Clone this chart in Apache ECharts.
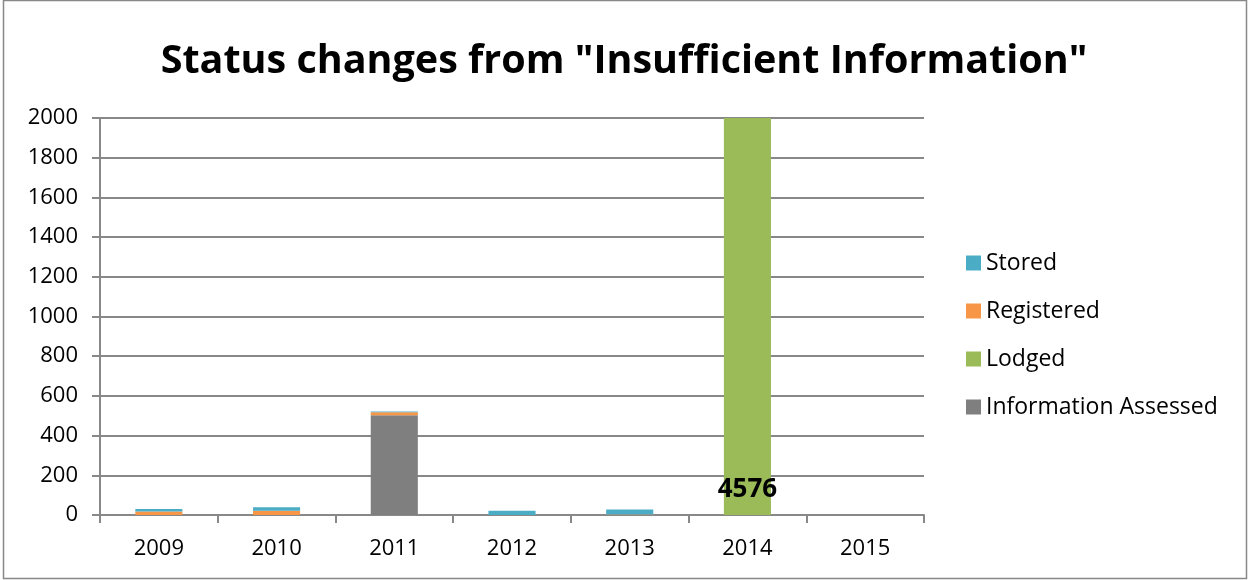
<!DOCTYPE html>
<html>
<head>
<meta charset="utf-8">
<script src="https://cdn.jsdelivr.net/npm/echarts@6/dist/echarts.min.js"></script>
<style>
  html, body { margin: 0; padding: 0; background: #fff; }
  #main { width: 1248px; height: 580px; }
</style>
</head>
<body>
<div id="main"></div>
<script>
var years = ['2009', '2010', '2011', '2012', '2013', '2014', '2015'];
var infoAssessed = [0, 0, 503, 0, 0, 0, 0];
var lodged = [0, 0, 0, 0, 0, 4576, 0];
var registered = [18, 22, 15, 0, 3, 0, 0];
var stored = [12, 17, 4, 22, 25, 0, 0];
var yTicks = [0, 200, 400, 600, 800, 1000, 1200, 1400, 1600, 1800, 2000];

var font = '"Open Sans", sans-serif';
var chart = echarts.init(document.getElementById('main'));

var option = {
  animation: false,
  title: {
    text: 'Status changes from "Insufficient Information"',
    left: 'center',
    top: 37,
    textStyle: { fontFamily: font, fontWeight: 'bold', fontSize: 39.5, color: '#000' }
  },
  legend: {
    orient: 'vertical',
    left: 966,
    top: 251,
    padding: 0,
    itemGap: 24,
    itemWidth: 15,
    itemHeight: 15,
    icon: 'rect',
    textStyle: { fontFamily: font, fontSize: 23, lineHeight: 24, color: '#000' },
    data: ['Stored', 'Registered', 'Lodged', 'Information Assessed']
  },
  grid: { left: 100, right: 324, top: 118, bottom: 65 },
  xAxis: {
    type: 'category',
    data: years,
    axisLine: { lineStyle: { color: '#888', width: 2 } },
    axisTick: { show: true, length: 8, lineStyle: { color: '#888', width: 2 } },
    axisLabel: { fontFamily: font, fontSize: 22, color: '#000', margin: 23 }
  },
  yAxis: {
    type: 'value',
    min: yTicks[0],
    max: yTicks[yTicks.length - 1],
    interval: 200,
    axisLine: { show: true, lineStyle: { color: '#888', width: 2 } },
    axisTick: { show: true, length: 8, lineStyle: { color: '#888', width: 2 } },
    axisLabel: {
      fontFamily: font, fontSize: 22, color: '#000', margin: 22,
      formatter: function (v) { return String(v); }
    },
    splitLine: { lineStyle: { color: '#888', width: 2 } }
  },
  series: [
    {
      name: 'Information Assessed', type: 'bar', stack: 'all', barWidth: '40%',
      itemStyle: { color: '#7f7f7f' }, data: infoAssessed
    },
    {
      name: 'Lodged', type: 'bar', stack: 'all',
      itemStyle: { color: '#9bbb59' }, data: lodged,
      label: {
        show: true, position: 'insideBottom', distance: 12,
        fontFamily: font, fontWeight: 'bold', fontSize: 26, color: '#000',
        formatter: function (p) { return p.value > 0 ? p.value : ''; }
      }
    },
    {
      name: 'Registered', type: 'bar', stack: 'all',
      itemStyle: { color: '#f79646' }, data: registered
    },
    {
      name: 'Stored', type: 'bar', stack: 'all',
      itemStyle: { color: '#4bacc6' }, data: stored
    }
  ],
  graphic: [{
    type: 'rect',
    shape: { x: 3.5, y: 0.5, width: 1243, height: 578 },
    style: { fill: 'none', stroke: '#888', lineWidth: 1.5 },
    silent: true
  }]
};

chart.setOption(option);
</script>
</body>
</html>
